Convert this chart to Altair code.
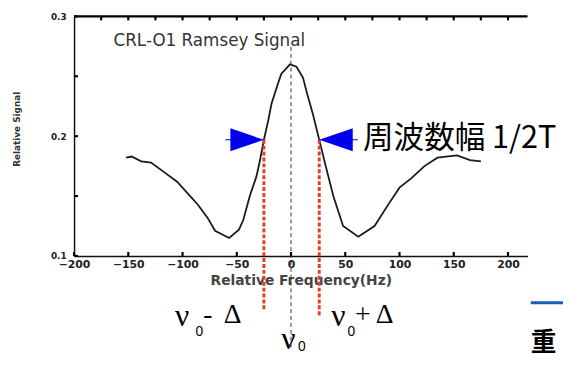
import altair as alt
import pandas as pd

# ---- data ----
freq_hz = [-152, -147, -138, -129, -117, -105, -93, -86, -77, -70, -57, -48, -44, -38,
           -32, -29, -25, -21, -18, -12, -9, -1, 5, 11, 15, 20, 26, 32, 39, 48, 62,
           77, 89, 100, 111, 123, 135, 153, 165, 175]
signal = [0.182, 0.183, 0.179, 0.178, 0.170, 0.162, 0.150, 0.143, 0.132, 0.121, 0.115,
          0.122, 0.130, 0.150, 0.166, 0.178, 0.197, 0.213, 0.227, 0.244, 0.252, 0.260,
          0.258, 0.249, 0.235, 0.219, 0.197, 0.175, 0.150, 0.125, 0.116, 0.125, 0.142,
          0.157, 0.165, 0.175, 0.182, 0.184, 0.180, 0.179]

x_label_values = [-200, -150, -100, -50, 0, 50, 100, 150, 200]
top_tick_values = [-175, -150, -125, -100, -75, -50, -25, 0, 25, 50, 75, 100, 125, 150, 175, 200]
y_tick_values = [0.1, 0.15, 0.2, 0.25, 0.3]
y_label_values = [0.1, 0.2, 0.3]

marker_side = ["left", "right"]
marker_hz = [-25, 26]
marker_signal = [0.197, 0.197]
marker_floor = [0.054, 0.050]

center_hz = [0]
center_top = [0.2745]
center_bottom = [0.0230]

chart_title = "CRL-O1 Ramsey Signal"
title_hz = [-163.6]
title_sig = [0.2753]

width_label = "周波数幅 1/2T"
width_label_hz = [66.4]
width_label_sig = [0.1905]

nu_texts = ["ν", "ν", "ν"]
nu_hz = [-107, 37, -9]
nu_sig = [0.0416, 0.0416, 0.0226]

op_texts = ["-", "Δ", "+", "Δ"]
op_hz = [-81, -62, 59, 78]
op_sig = [0.044, 0.044, 0.044, 0.044]

sub_texts = ["0", "0", "0"]
sub_hz = [-88, 52, 6.4]
sub_sig = [0.0333, 0.0333, 0.0210]

deco_line_hz = [221]
deco_line_hz2 = [252]
deco_line_sig = [0.0609]
deco_text = ["重"]
deco_text_hz = [221]
deco_text_sig = [0.0210]

X_MIN, X_MAX = -200, 218
Y_MIN, Y_MAX = 0.1, 0.3
W, H = 460, 243
TICK = 4  # inward tick length in pixels
tick_dx = TICK * (X_MAX - X_MIN) / W
tick_dy = TICK * (Y_MAX - Y_MIN) / H

xs = alt.Scale(domain=[X_MIN, X_MAX], nice=False, zero=False)
ys = alt.Scale(domain=[Y_MIN, Y_MAX], nice=False, zero=False)

curve_df = pd.DataFrame({"hz": freq_hz, "sig": signal})

curve = alt.Chart(curve_df).mark_line(color="#1a1a1a", strokeWidth=1.8).encode(
    x=alt.X("hz:Q", scale=xs, axis=alt.Axis(
        values=x_label_values,
        labelExpr="datum.value < 0 ? '\u2212' + abs(datum.value) : datum.label",
        ticks=False, tickSize=0, grid=False,
        domainColor="#111", domainWidth=1.5,
        labelFont="DejaVu Sans", labelFontWeight="bold", labelFontSize=11,
        labelColor="#222", labelPadding=3, labelFlush=False, labelOverlap=False,
        title="Relative Frequency(Hz)", titleFont="DejaVu Sans", titleFontSize=14,
        titleFontWeight="bold", titleColor="#444", titlePadding=4)),
    y=alt.Y("sig:Q", scale=ys, axis=alt.Axis(
        values=y_label_values, format=".1f",
        ticks=False, tickSize=0, grid=False,
        domainColor="#111", domainWidth=1.5,
        labelFont="DejaVu Sans", labelFontWeight="bold", labelFontSize=9,
        labelColor="#222", labelPadding=8, labelFlush=False, labelOverlap=False,
        title="Relative Signal", titleFont="DejaVu Sans", titleFontSize=9,
        titleFontWeight="bold", titleColor="#333",
        titleX=-58, titleY=114, titleAngle=270, titleBaseline="middle")),
)

# inward ticks and the top frame line, as short line segments through the scales
seg_rows = []
for v in y_tick_values:
    seg_rows += [{"g": f"L{v}", "px": X_MIN, "py": v, "o": 0},
                 {"g": f"L{v}", "px": X_MIN + tick_dx, "py": v, "o": 1}]
for h in x_label_values:
    seg_rows += [{"g": f"B{h}", "px": h, "py": Y_MIN, "o": 0},
                 {"g": f"B{h}", "px": h, "py": Y_MIN + tick_dy, "o": 1}]
for h in top_tick_values:
    seg_rows += [{"g": f"T{h}", "px": h, "py": Y_MAX, "o": 0},
                 {"g": f"T{h}", "px": h, "py": Y_MAX - tick_dy, "o": 1}]
seg_rows += [{"g": "top", "px": X_MIN, "py": Y_MAX, "o": 0},
             {"g": "top", "px": X_MAX, "py": Y_MAX, "o": 1}]
frame = alt.Chart(pd.DataFrame(seg_rows)).mark_line(
    color="black", strokeWidth=2.2, opacity=1).encode(
    x=alt.X("px:Q", scale=xs), y=alt.Y("py:Q", scale=ys),
    detail="g:N", order="o:Q")

# center dashed line (nu0)
center_df = pd.DataFrame({"h": center_hz, "top": center_top, "bot": center_bottom})
center_line = alt.Chart(center_df).mark_rule(
    color="#333", strokeWidth=1, strokeDash=[4, 3]).encode(
    x=alt.X("h:Q", scale=xs), y=alt.Y("top:Q", scale=ys), y2="bot:Q")

# red dashed lines at +/- delta
mk_df = pd.DataFrame({"side": marker_side, "h": marker_hz, "s": marker_signal, "f": marker_floor})
red_lines = alt.Chart(mk_df).mark_rule(
    color="#e0402a", strokeWidth=3, strokeDash=[4, 2]).encode(
    x=alt.X("h:Q", scale=xs), y=alt.Y("s:Q", scale=ys), y2="f:Q")

left_arrow = "M-2.3,-0.035L-2,-0.035L-2,0.035L-2.3,0.035Z M-2,-0.68L0,0L-2,0.68Z"
right_arrow = "M2.3,-0.035L2,-0.035L2,0.035L2.3,0.035Z M2,-0.68L0,0L2,0.68Z"
arrows = alt.Chart(mk_df).mark_point(filled=True, color="#0000ee", opacity=1, size=1156).encode(
    x=alt.X("h:Q", scale=xs), y=alt.Y("s:Q", scale=ys),
    shape=alt.Shape("side:N", scale=alt.Scale(domain=marker_side, range=[left_arrow, right_arrow]),
                    legend=None))

# texts
title_df = pd.DataFrame({"t": [chart_title], "h": title_hz, "s": title_sig})
title_txt = alt.Chart(title_df).mark_text(
    align="left", baseline="alphabetic", font="DejaVu Sans", fontSize=17, color="#333").encode(
    x=alt.X("h:Q", scale=xs), y=alt.Y("s:Q", scale=ys), text="t:N")

wl_df = pd.DataFrame({"t": [width_label], "h": width_label_hz, "s": width_label_sig})
wl_txt = alt.Chart(wl_df).mark_text(
    align="left", baseline="alphabetic", font="Noto Sans CJK JP", fontSize=31, color="#000").encode(
    x=alt.X("h:Q", scale=xs), y=alt.Y("s:Q", scale=ys), text="t:N")

nu_df = pd.DataFrame({"t": nu_texts, "h": nu_hz, "s": nu_sig})
nu_txt = alt.Chart(nu_df).mark_text(
    align="left", baseline="alphabetic", font="Liberation Serif", fontSize=32, color="#000").encode(
    x=alt.X("h:Q", scale=xs), y=alt.Y("s:Q", scale=ys), text="t:N")

op_df = pd.DataFrame({"t": op_texts, "h": op_hz, "s": op_sig})
op_txt = alt.Chart(op_df).mark_text(
    align="left", baseline="alphabetic", font="Liberation Serif", fontSize=28, color="#000").encode(
    x=alt.X("h:Q", scale=xs), y=alt.Y("s:Q", scale=ys), text="t:N")

sub_df = pd.DataFrame({"t": sub_texts, "h": sub_hz, "s": sub_sig})
sub_txt = alt.Chart(sub_df).mark_text(
    align="left", baseline="alphabetic", font="Liberation Sans", fontSize=14, color="#000").encode(
    x=alt.X("h:Q", scale=xs), y=alt.Y("s:Q", scale=ys), text="t:N")

# slide decorations
deco_line = alt.Chart(pd.DataFrame({"h": deco_line_hz, "h2": deco_line_hz2, "s": deco_line_sig})).mark_rule(
    color="#1a5fb4", strokeWidth=3).encode(
    x=alt.X("h:Q", scale=xs), x2="h2:Q", y=alt.Y("s:Q", scale=ys))
deco_txt = alt.Chart(pd.DataFrame({"t": deco_text, "h": deco_text_hz, "s": deco_text_sig})).mark_text(
    align="left", baseline="alphabetic", font="Noto Sans CJK JP", fontWeight="bold",
    fontSize=26, color="#000").encode(
    x=alt.X("h:Q", scale=xs), y=alt.Y("s:Q", scale=ys), text="t:N")

chart = alt.layer(
    curve, center_line, red_lines, arrows,
    title_txt, wl_txt, nu_txt, op_txt, sub_txt, deco_line, deco_txt, frame,
).properties(
    width=W, height=H,
    autosize=alt.AutoSizeParams(type="none"),
    padding={"left": 67, "top": 6, "right": 36, "bottom": 100},
).configure_view(stroke=None)

chart.save("out.html", embed_options={"renderer": "svg", "actions": False})
